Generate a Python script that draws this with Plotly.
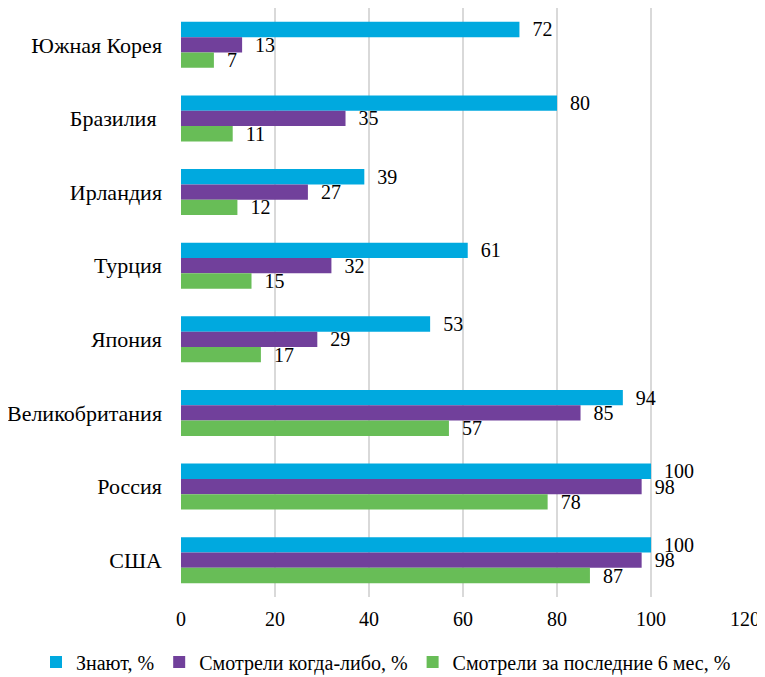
import plotly.graph_objects as go

countries = ["Южная Корея", "Бразилия ", "Ирландия", "Турция", "Япония", "Великобритания", "Россия", "США"]
know = [72, 80, 39, 61, 53, 94, 100, 100]
watched_ever = [13, 35, 27, 32, 29, 85, 98, 98]
watched_6m = [7, 11, 12, 15, 17, 57, 78, 87]

series = [
    ("Знают, %", know, "#00A9DF"),
    ("Смотрели когда-либо, %", watched_ever, "#71409B"),
    ("Смотрели за последние 6 мес, %", watched_6m, "#68BD57"),
]

FONT = "Liberation Serif"

fig = go.Figure()
for name, vals, color in series:
    fig.add_trace(go.Bar(
        y=countries, x=vals, name=name, orientation="h",
        marker=dict(color=color, line=dict(width=0)),
        text=["\u00a0\u00a0" + str(v) for v in vals], textposition="outside",
        textfont=dict(family=FONT, size=20, color="black"),
        constraintext="none",
        cliponaxis=False,
    ))

# page body adds an 8px offset, so the figure is sized to fit the window
W, H = 757, 669
ML, MR, MT, MB = 173, 19, 0, 80
plot_w = W - ML - MR
plot_h = H - MT - MB

fig.update_layout(
    width=W, height=H,
    barmode="group", bargap=0.375, bargroupgap=0,
    paper_bgcolor="white", plot_bgcolor="white",
    margin=dict(l=ML, r=MR, t=MT, b=MB, autoexpand=False),
    font=dict(family=FONT, size=20, color="black"),
    xaxis=dict(range=[0, 120.2], tickvals=[0, 20, 40, 60, 80, 100, 120],
               showgrid=True, gridcolor="#D9D9D9", gridwidth=1.5,
               zeroline=False, showline=False, ticks="", ticklabelstandoff=8,
               ticklabeloverflow="allow",
               automargin=False, tickfont=dict(family=FONT, size=20)),
    yaxis=dict(categoryorder="array", categoryarray=countries, autorange="reversed",
               showline=False, ticks="", ticklabelstandoff=18, automargin=False,
               tickfont=dict(family=FONT, size=22)),
    legend=dict(orientation="h", xref="paper", yref="paper",
                x=(28 - ML) / plot_w, xanchor="left",
                y=-65 / plot_h, yanchor="middle",
                traceorder="normal", font=dict(family=FONT, size=20), itemwidth=30,
                tracegroupgap=0),
    showlegend=True,
)

fig.write_html("out.html")
